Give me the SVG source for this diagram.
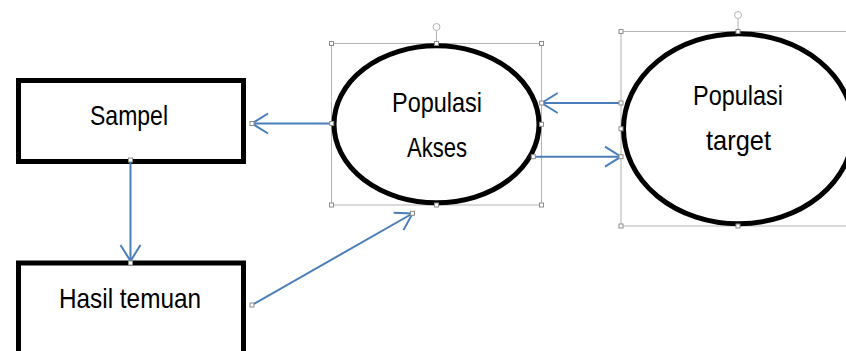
<svg xmlns="http://www.w3.org/2000/svg" width="846" height="351" viewBox="0 0 846 351">
<style>
.box{fill:#fff;stroke:#000;stroke-width:5}
.ell{fill:#fff;stroke:#000;stroke-width:5}
.lbl{font-family:"Liberation Sans",Arial,sans-serif;font-size:28px;fill:#000;text-anchor:middle}
.sel{fill:none;stroke:#b4b4b4;stroke-width:1}
.h{fill:#fff;stroke:#8c8c8c;stroke-width:1}
.con{fill:none;stroke:#4a7ebb;stroke-width:2}
</style>
<defs>
<marker id="arr" markerUnits="userSpaceOnUse" markerWidth="40" markerHeight="40" viewBox="-20 -20 40 40" refX="0" refY="0" orient="auto" overflow="visible">
<path d="M-16,-10 L0,0 L-16,10" fill="none" stroke="#4a7ebb" stroke-width="2"/>
</marker>
</defs>
<rect width="846" height="351" fill="#fff"/>

<g id="sampel">
<rect class="box" x="18.5" y="80.5" width="225" height="81"/>
<text class="lbl" x="129" y="125" textLength="78" lengthAdjust="spacingAndGlyphs">Sampel</text>
<rect class="h" x="128.5" y="158" width="4" height="4"/>
</g>

<g id="hasil">
<rect class="box" x="18.5" y="263" width="225" height="100"/>
<text class="lbl" x="130" y="308" textLength="142" lengthAdjust="spacingAndGlyphs">Hasil temuan</text>
</g>

<g id="akses">
<rect class="sel" x="331.5" y="43.5" width="210" height="161.5"/>
<line class="sel" x1="436.5" y1="43" x2="436.5" y2="31"/>
<circle cx="436.5" cy="27" r="3.5" fill="none" stroke="#b4b4b4" stroke-width="1"/>
<ellipse class="ell" cx="436.5" cy="124.3" rx="102.5" ry="78.5"/>
<text class="lbl" x="437" y="112" textLength="90" lengthAdjust="spacingAndGlyphs">Populasi</text>
<text class="lbl" x="437" y="157" textLength="60" lengthAdjust="spacingAndGlyphs">Akses</text>
<rect class="h" x="329.5" y="41.5" width="4" height="4"/>
<rect class="h" x="539.5" y="41.5" width="4" height="4"/>
<rect class="h" x="329.5" y="203" width="4" height="4"/>
<rect class="h" x="539.5" y="203" width="4" height="4"/>
<rect class="h" x="434.5" y="41.5" width="4" height="4"/>
<rect class="h" x="434.5" y="203" width="4" height="4"/>
<rect class="h" x="539.5" y="122.3" width="4" height="4"/>
</g>

<g id="target">
<rect class="sel" x="621" y="31.5" width="240" height="194.5"/>
<line class="sel" x1="738" y1="31" x2="738" y2="19"/>
<circle cx="738" cy="15" r="3.5" fill="none" stroke="#b4b4b4" stroke-width="1"/>
<ellipse class="ell" cx="738.5" cy="128.8" rx="115" ry="95"/>
<text class="lbl" x="738" y="105" textLength="90" lengthAdjust="spacingAndGlyphs">Populasi</text>
<text class="lbl" x="738.5" y="150" textLength="65" lengthAdjust="spacingAndGlyphs">target</text>
<rect class="h" x="619" y="29.5" width="4" height="4"/>
<rect class="h" x="619" y="224" width="4" height="4"/>
<rect class="h" x="736" y="29.5" width="4" height="4"/>
<rect class="h" x="736" y="224" width="4" height="4"/>
<rect class="h" x="619" y="126.8" width="4" height="4"/>
</g>

<g id="connectors">
<line class="con" x1="331.7" y1="123.5" x2="252" y2="123.5" marker-end="url(#arr)"/>
<line class="con" x1="130.5" y1="162" x2="130.5" y2="261" marker-end="url(#arr)"/>
<line class="con" x1="252" y1="305" x2="412.5" y2="213.5" marker-end="url(#arr)"/>
<line class="con" x1="621" y1="103" x2="541.7" y2="103" marker-end="url(#arr)"/>
<line class="con" x1="533.3" y1="156.7" x2="621" y2="156.7" marker-end="url(#arr)"/>
<rect class="h" x="329.7" y="121.5" width="4" height="4"/>
<rect class="h" x="250" y="121.5" width="4" height="4"/>
<rect class="h" x="128.5" y="261" width="4" height="4"/>
<rect class="h" x="250" y="303" width="4" height="4"/>
<rect class="h" x="410.5" y="211.3" width="4" height="4"/>
<rect class="h" x="539.7" y="101" width="4" height="4"/>
<rect class="h" x="619" y="101" width="4" height="4"/>
<rect class="h" x="531.3" y="154.7" width="4" height="4"/>
<rect class="h" x="619" y="154.7" width="4" height="4"/>
</g>
</svg>
